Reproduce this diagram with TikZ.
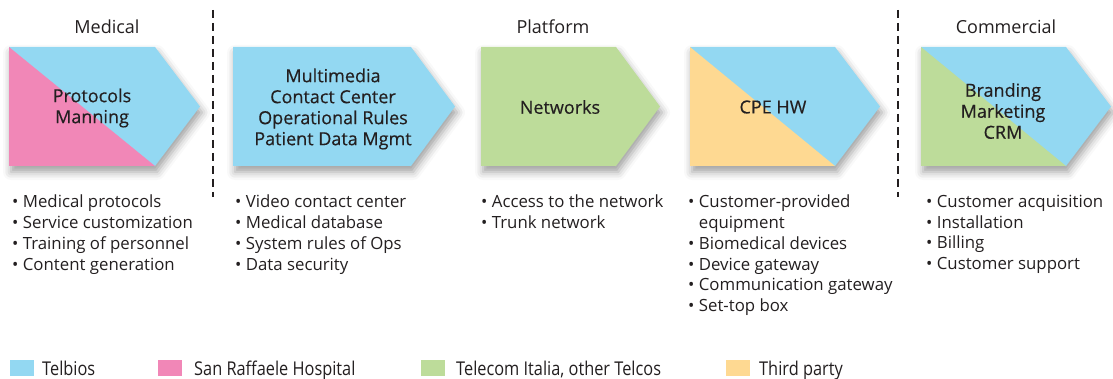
\documentclass[tikz,border=0pt]{standalone}
\usepackage{fontspec}
\setmainfont{Open Sans}
\newfontfamily\condfont[FakeStretch=0.86]{Open Sans}
\newfontfamily\chevfont[FakeBold=0.35]{Open Sans}
\usetikzlibrary{shadows.blur}
\definecolor{cblue}{RGB}{147,216,242}
\definecolor{cpink}{RGB}{241,135,183}
\definecolor{cgreen}{RGB}{189,220,154}
\definecolor{cyellow}{RGB}{254,217,146}
\definecolor{ctext}{RGB}{35,31,32}
\tikzset{
  chev/.style={blur shadow={shadow xshift=2pt,shadow yshift=-6pt,shadow blur radius=8pt,shadow opacity=38}},
  chevtext/.style={align=center,font=\chevfont\fontsize{18}{21}\selectfont,text=ctext,inner sep=0pt},
  head/.style={font=\fontsize{18}{20}\selectfont,text=ctext,inner sep=0pt},
  bul/.style={align=left,anchor=north west,font=\fontsize{16.8}{20.7}\selectfont,text=ctext,inner sep=0pt},
  sep/.style={draw=ctext,line width=2.2pt,dash pattern=on 8pt off 5pt},
  leg/.style={anchor=base west,font=\condfont\fontsize{19}{20}\selectfont,text=ctext,inner sep=0pt},
  legbox/.style={minimum width=24pt,minimum height=16pt,inner sep=0pt,anchor=west}
}
\begin{document}
\begin{tikzpicture}[x=1pt,y=-1pt]
\useasboundingbox (0,0) rectangle (1113,379);
% chevrons
\path[chev,fill=cblue] (9,47) -- (155,47) -- (200,106.5) -- (155,166) -- (9,166) -- cycle;
\fill[cpink] (9,47) -- (155,166) -- (9,166) -- cycle;
\path[chev,fill=cblue] (233,47) -- (411,47) -- (455,106.5) -- (411,166) -- (233,166) -- cycle;
\path[chev,fill=cgreen] (481,47) -- (616,47) -- (660,106.5) -- (616,166) -- (481,166) -- cycle;
\path[chev,fill=cblue] (690,47) -- (835,47) -- (880,106.5) -- (835,166) -- (690,166) -- cycle;
\fill[cyellow] (690,47) -- (835,166) -- (690,166) -- cycle;
\path[chev,fill=cblue] (921,47) -- (1066,47) -- (1111,106.5) -- (1066,166) -- (921,166) -- cycle;
\fill[cgreen] (921,47) -- (1066,166) -- (921,166) -- cycle;
% chevron texts
\node[chevtext] (t1) at (92,108) {Protocols\\Manning};
\node[chevtext] (t2) at (333,109) {Multimedia\\Contact Center\\Operational Rules\\Patient Data Mgmt};
\node[chevtext] (t3) at (560,107) {Networks};
\node[chevtext] (t4) at (773,107) {CPE HW};
\node[chevtext] (t5) at (1003,111) {Branding\\Marketing\\CRM};
% headers
\node[head] (h1) at (107,27) {Medical};
\node[head] (h2) at (553,27) {Platform};
\node[head] (h3) at (1006,27) {Commercial};
% separators
\coordinate (s1a) at (213,10); \coordinate (s1b) at (213,197);
\coordinate (s2a) at (898,10); \coordinate (s2b) at (898,197);
\draw[sep] (s1a) -- (s1b);
\draw[sep] (s2a) -- (s2b);
% bullet lists
\node[bul] (b1) at (12,195) {\textbullet\ Medical protocols\\\textbullet\ Service customization\\\textbullet\ Training of personnel\\\textbullet\ Content generation};
\node[bul] (b2) at (235,195) {\textbullet\ Video contact center\\\textbullet\ Medical database\\\textbullet\ System rules of Ops\\\textbullet\ Data security};
\node[bul] (b3) at (481,195) {\textbullet\ Access to the network\\\textbullet\ Trunk network};
\node[bul] (b4) at (688,195) {\textbullet\ Customer-provided\\\phantom{\textbullet\ }equipment\\\textbullet\ Biomedical devices\\\textbullet\ Device gateway\\\textbullet\ Communication gateway\\\textbullet\ Set-top box};
\node[bul] (b5) at (926,195) {\textbullet\ Customer acquisition\\\textbullet\ Installation\\\textbullet\ Billing\\\textbullet\ Customer support};
% legend
\node[legbox,fill=cblue] (l1) at (10,368) {};
\node[leg] (l1t) at (42,375) {Telbios};
\node[legbox,fill=cpink] (l2) at (158,368) {};
\node[leg] (l2t) at (194,375) {San Raffaele Hospital};
\node[legbox,fill=cgreen] (l3) at (421,368) {};
\node[leg] (l3t) at (456,375) {Telecom Italia, other Telcos};
\node[legbox,fill=cyellow] (l4) at (726,368) {};
\node[leg] (l4t) at (759,375) {Third party};
\end{tikzpicture}
\end{document}
